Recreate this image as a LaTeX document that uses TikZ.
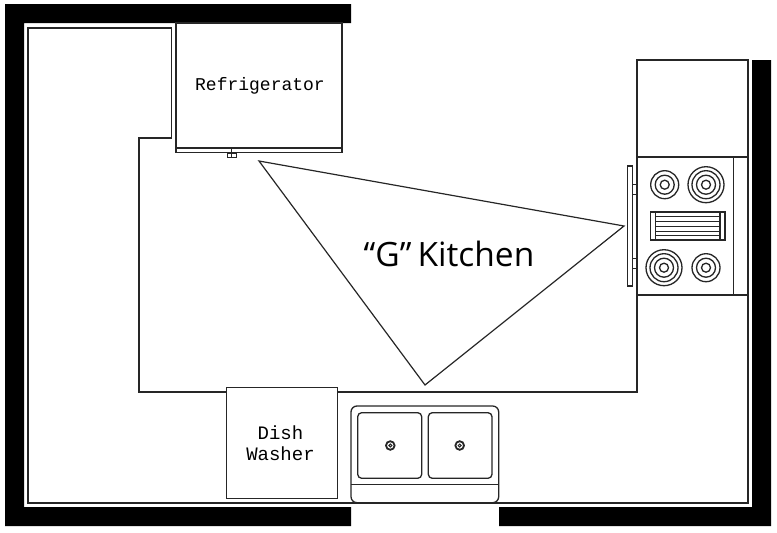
\documentclass[tikz,border=0pt]{standalone}
\usepackage{fontspec}
\newfontfamily\cadfont{Liberation Mono}
\newfontfamily\titlefont[WordSpace=0.7]{Open Sans}
\tikzset{
	wall/.style={fill=black,draw=none},
	fixture/.style={draw=black!85,line width=1.3pt,fill=white},
	outline/.style={draw=black!85,line width=1.3pt,line join=miter},
	cadlabel/.style={font=\cadfont\fontsize{18}{21}\selectfont,align=center},
}
\begin{document}
\begin{tikzpicture}[x=1pt,y=-1pt]
		\useasboundingbox (0,0) rectangle (777,533);
		% walls
		\fill[wall] (5,4) -- (351,4) -- (351,23) -- (24,23) -- (24,507) -- (351,507) -- (351,526) -- (5,526) -- cycle;
		\fill[wall] (499,507) -- (752,507) -- (752,60) -- (771,60) -- (771,526) -- (499,526) -- cycle;
		% counter lines
		\draw[outline] (171.5,28) -- (28,28) -- (28,503) -- (748,503) -- (748,60);
		\draw[outline] (171.5,28) -- (171.5,138) -- (139,138) -- (139,392) -- (637,392) -- (637,295);
		% refrigerator
		\draw[fixture] (176,23) rectangle (342,148);
		\draw[fixture] (176,148) rectangle (342,152.5);
		\draw[fixture,line width=1pt] (227,153) rectangle (236,157.5);
		\draw[outline,line width=1pt] (231.5,148) -- (231.5,157.5);
		\node[cadlabel] (fridge) at (260,86) {Refrigerator};
		% upper counter and stove
		\draw[fixture] (637,60) rectangle (748,157);
		\draw[fixture] (637,157) rectangle (748,295);
		\draw[outline] (733.5,157) -- (733.5,295);
		\draw[fixture] (627.7,166) rectangle (632.3,286);
		\draw[outline,line width=1pt] (632.3,184) -- (637,184);
		\draw[outline,line width=1pt] (632.3,194) -- (637,194);
		\draw[outline,line width=1pt] (632.3,258) -- (637,258);
		\draw[outline,line width=1pt] (632.3,268) -- (637,268);
		% burners
		\draw[outline] (664.7,184.7) circle (14) circle (9.5) circle (4.5);
		\draw[outline] (706,184.7) circle (18) circle (14) circle (9.5) circle (4.5);
		\draw[outline] (664,267.7) circle (18) circle (14) circle (9.5) circle (4.5);
		\draw[outline] (706,267.7) circle (14) circle (9.5) circle (4.5);
		% griddle
		\draw[fixture,line width=1.5pt] (650.3,212) rectangle (725,240);
		\draw[outline] (655.3,212) -- (655.3,240);
		\draw[outline] (720,212) -- (720,240);
		\draw[outline,line width=1pt] (655.3,216.5) -- (720,216.5);
		\draw[outline,line width=1pt] (655.3,221.3) -- (720,221.3);
		\draw[outline,line width=1pt] (655.3,226) -- (720,226);
		\draw[outline,line width=1pt] (655.3,231) -- (720,231);
		\draw[outline,line width=1pt] (655.3,235.7) -- (720,235.7);
		% dish washer
		\draw[fixture] (226.7,387.7) rectangle (337.3,498.7);
		\node[cadlabel,font=\cadfont\fontsize{19}{21}\selectfont] (washer) at (280.5,443) {Dish\\Washer};
		% sink
		\draw[fixture,rounded corners=6pt] (351,406) rectangle (498.7,502.7);
		\draw[outline] (351,484.3) -- (498.7,484.3);
		\draw[fixture,rounded corners=4pt] (357.7,412.7) rectangle (421.7,478.3);
		\draw[fixture,rounded corners=4pt] (428.3,412.7) rectangle (492,478.3);
		\draw[outline,line width=1.8pt] (390.3,445.5) circle (4.3);
		\draw[outline,line width=1pt] (390.3,445.5) circle (1.5);
		\draw[outline,line width=1.8pt] (459.7,445.5) circle (4.3);
		\draw[outline,line width=1pt] (459.7,445.5) circle (1.5);
		% work triangle
		\draw[outline,line width=1.2pt] (259,161) -- (624,226) -- (425,385) -- cycle;
		\node[font=\titlefont\fontsize{33.5}{36}\selectfont] (title) at (449,254) {“G” Kitchen};
	\end{tikzpicture}
\end{document}
